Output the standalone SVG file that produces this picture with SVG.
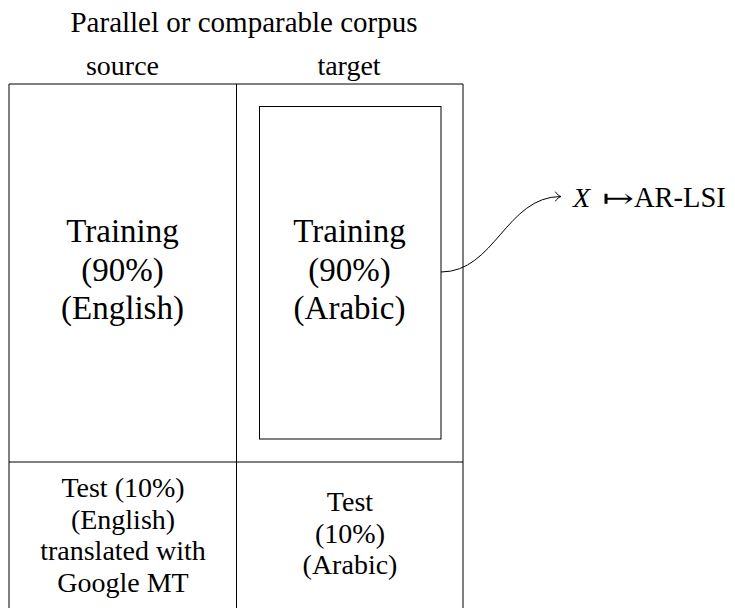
<svg xmlns="http://www.w3.org/2000/svg" width="735" height="608" viewBox="0 0 735 608">
  <style>
    .t { font-family: "Liberation Serif", "Times New Roman", serif; fill: #000; text-anchor: middle; }
    .s { font-size: 28px; }
    .L { font-size: 33px; }
    .ln { fill: none; stroke: #000; stroke-width: 1; }
  </style>
  <defs>
    <marker id="to" markerUnits="userSpaceOnUse" markerWidth="14" markerHeight="14" refX="0" refY="0" viewBox="-8 -7 10 14" orient="auto" overflow="visible">
      <path d="M-5.5,-4.5 C-4,-2 -1.5,-0.5 0,0 C-1.5,0.5 -4,2 -5.5,4.5" fill="none" stroke="#000" stroke-width="1" stroke-linecap="round"/>
    </marker>
  </defs>
  <rect width="735" height="608" fill="#fff"/>

  <g id="title">
    <text class="t" x="244" y="32" font-size="29">Parallel or comparable corpus</text>
  </g>
  <g id="header-source">
    <text class="t s" x="122.5" y="75">source</text>
  </g>
  <g id="header-target">
    <text class="t s" x="349" y="75">target</text>
  </g>

  <g id="table-frame">
    <path class="ln" d="M9,608 V84 H463 V608"/>
    <path class="ln" d="M236.5,84 V608"/>
    <path class="ln" d="M9,462 H463"/>
  </g>

  <g id="training-source">
    <text class="t L" x="122.5" y="242">Training</text>
    <text class="t L" x="122.5" y="280.5">(90%)</text>
    <text class="t L" x="122.5" y="319">(English)</text>
  </g>

  <g id="training-target">
    <rect class="ln" x="259.5" y="106.5" width="181.5" height="332.5"/>
    <text class="t L" x="349.5" y="242">Training</text>
    <text class="t L" x="349.5" y="280.5">(90%)</text>
    <text class="t L" x="349.5" y="319">(Arabic)</text>
  </g>

  <g id="test-source">
    <text class="t s" x="123" y="497">Test (10%)</text>
    <text class="t s" x="123" y="528.5">(English)</text>
    <text class="t s" x="123" y="560">translated with</text>
    <text class="t s" x="123" y="591.5">Google MT</text>
  </g>

  <g id="test-target">
    <text class="t s" x="350" y="511">Test</text>
    <text class="t s" x="350" y="542.5">(10%)</text>
    <text class="t s" x="350" y="574">(Arabic)</text>
  </g>

  <g id="mapping">
    <text x="573" y="207" font-family="Liberation Serif, serif" font-size="28" font-style="italic">X</text>
    <text transform="translate(602,207) scale(1.45,1)" x="0" y="0" font-family="DejaVu Serif, serif" font-size="26">↦</text>
    <text x="634" y="207" font-family="Liberation Serif, serif" font-size="28.5">AR-LSI</text>
  </g>

  <g id="connectors">
    <path class="ln" d="M441,272 C495,272 506,196.5 561,196.5" marker-end="url(#to)"/>
  </g>
</svg>
